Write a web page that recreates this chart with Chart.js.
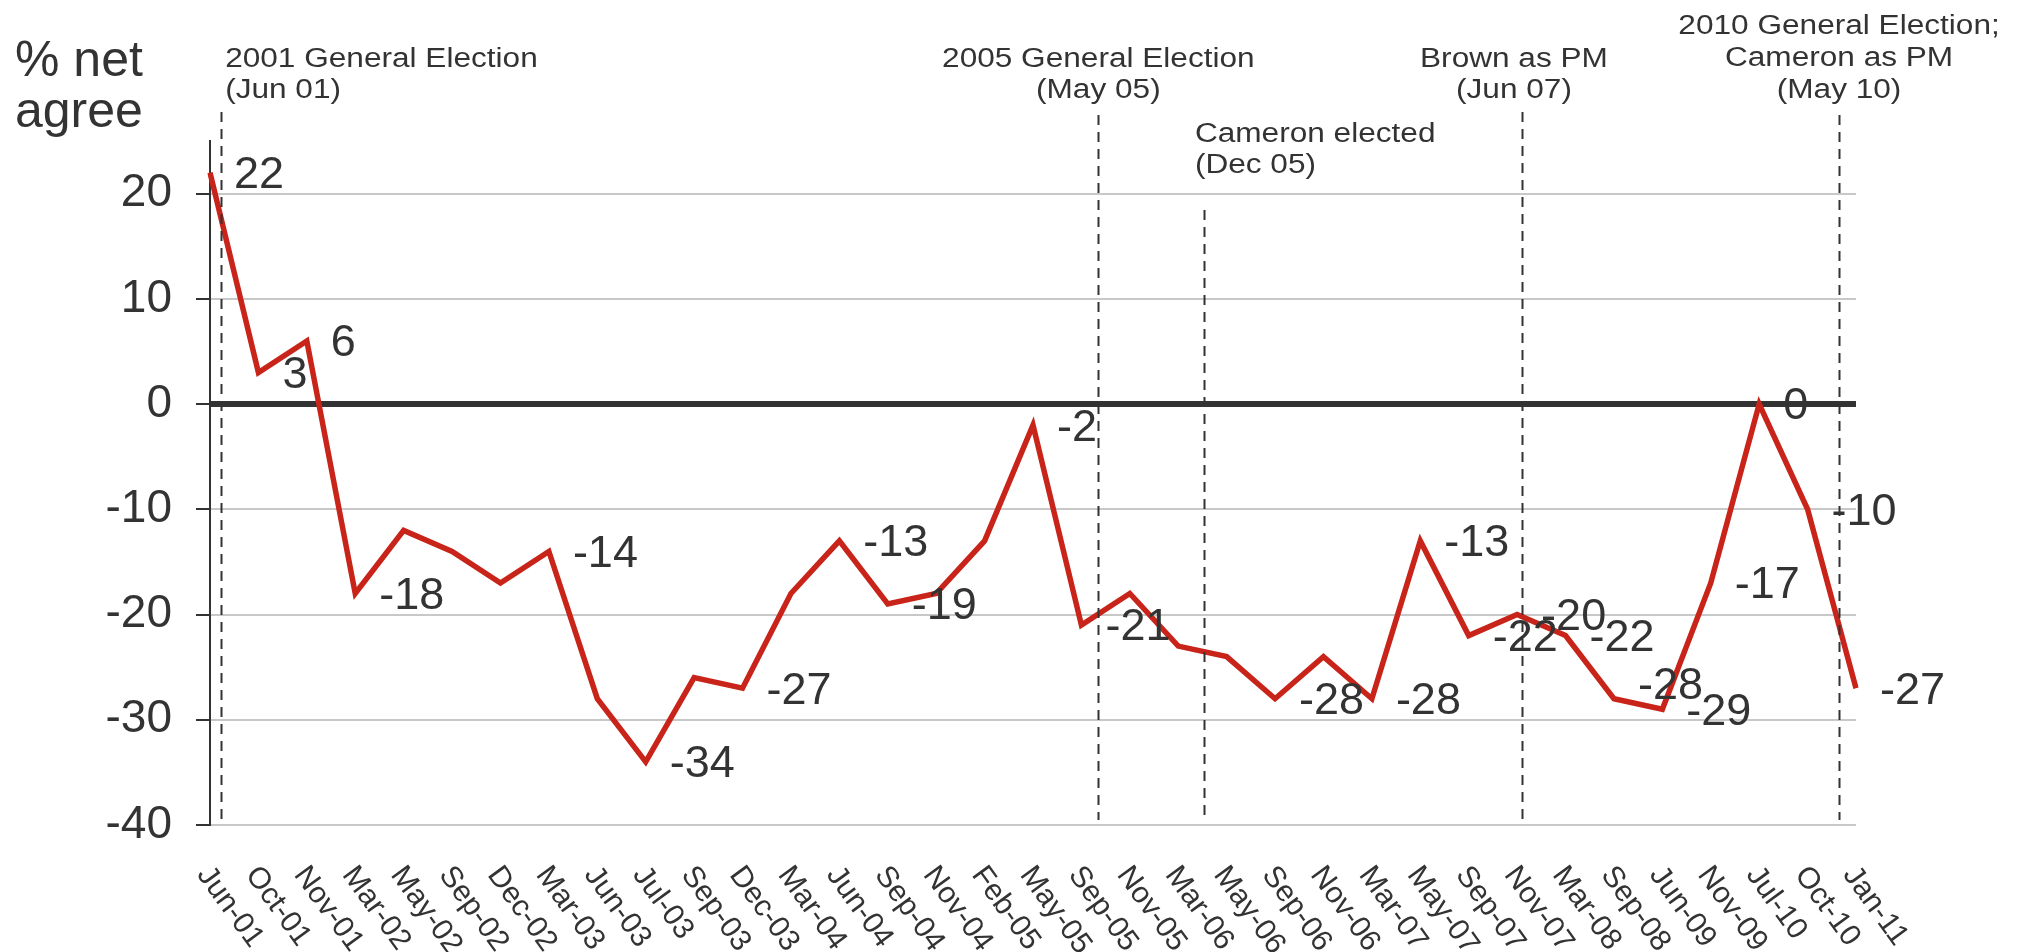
<!DOCTYPE html>
<html>
<head>
<meta charset="utf-8">
<script src="https://cdn.jsdelivr.net/npm/chart.js@4/dist/chart.umd.min.js"></script>
<style>
  html, body { margin: 0; padding: 0; background: #fff; }
  #wrap { width: 2025px; height: 952px; position: relative; }
</style>
</head>
<body>
<div id="wrap"><canvas id="netChart"></canvas></div>
<script>
// survey dates (category axis)
const months = ["Jun-01", "Oct-01", "Nov-01", "Mar-02", "May-02", "Sep-02", "Dec-02", "Mar-03",
  "Jun-03", "Jul-03", "Sep-03", "Dec-03", "Mar-04", "Jun-04", "Sep-04", "Nov-04", "Feb-05",
  "May-05", "Sep-05", "Nov-05", "Mar-06", "May-06", "Sep-06", "Nov-06", "Mar-07", "May-07",
  "Sep-07", "Nov-07", "Mar-08", "Sep-08", "Jun-09", "Nov-09", "Jul-10", "Oct-10", "Jan-11"];

// % net agree
const netAgree = [22, 3, 6, -18, -12, -14, -17, -14, -28, -34, -26, -27, -18, -13, -19, -18, -13,
  -2, -21, -18, -23, -24, -28, -24, -28, -13, -22, -20, -22, -28, -29, -17, 0, -10, -27];

// which points carry a value label
const labelledPoints = [0, 1, 2, 3, 7, 9, 11, 13, 14, 17, 18, 22, 24, 25, 26, 27, 28, 29, 30, 31, 32, 33, 34];

const yTicks = [-40, -30, -20, -10, 0, 10, 20];

// events: text lines and where they sit on the category axis (fractional index)
const eventText = [
  ["2001 General Election", "(Jun 01)"],
  ["2005 General Election", "(May 05)"],
  ["Cameron elected", "(Dec 05)"],
  ["Brown as PM", "(Jun 07)"],
  ["2010 General Election;", "Cameron as PM", "(May 10)"]
];
const eventAt = [0.23, 18.35, 20.53, 27.1, 33.65];

// look of the event markers (not data)
const eventStyle = [
  { align: "left", dx: 4, lines: [67, 98], top: 112 },
  { align: "center", dx: 0, lines: [67, 98], top: 115 },
  { align: "left", dx: -9, lines: [142, 173], top: 210 },
  { align: "center", dx: -8, lines: [67, 98], top: 112 },
  { align: "center", dx: 0, lines: [34, 66, 98], top: 115 }
];
const labelShiftY = { 29: -15 };

const INK = "#333333";
const FONT = "'Liberation Sans', Arial, Helvetica, sans-serif";

const overlay = {
  id: "overlay",
  afterDraw(chart) {
    const ctx = chart.ctx;
    const xs = chart.scales.x;
    const ys = chart.scales.y;
    ctx.save();
    ctx.fillStyle = INK;

    // value labels
    ctx.font = "45px " + FONT;
    ctx.textAlign = "left";
    ctx.textBaseline = "middle";
    labelledPoints.forEach(function (i) {
      const px = xs.getPixelForValue(i);
      const py = ys.getPixelForValue(netAgree[i]) + 3 + (labelShiftY[i] || 0);
      ctx.fillText(String(netAgree[i]), px + 24, py);
    });

    // event lines
    ctx.strokeStyle = INK;
    ctx.lineWidth = 2;
    ctx.setLineDash([10, 7]);
    eventAt.forEach(function (v, k) {
      const x = Math.round(xs.getPixelForValue(v)) + 0.5;
      ctx.beginPath();
      ctx.moveTo(x, eventStyle[k].top);
      ctx.lineTo(x, chart.chartArea.bottom - 5);
      ctx.stroke();
    });
    ctx.setLineDash([]);

    // event texts
    ctx.font = "27px " + FONT;
    ctx.textBaseline = "alphabetic";
    eventText.forEach(function (lines, k) {
      const st = eventStyle[k];
      const x = xs.getPixelForValue(eventAt[k]) + st.dx;
      ctx.textAlign = st.align;
      lines.forEach(function (t, j) {
        ctx.save();
        ctx.translate(x, st.lines[j]);
        ctx.scale(1.17, 1);
        ctx.fillText(t, 0, 0);
        ctx.restore();
      });
    });

    // axis title
    ctx.font = "50px " + FONT;
    ctx.textAlign = "left";
    ctx.fillText("% net", 15, 76);
    ctx.fillText("agree", 15, 127);

    // rotated category labels
    ctx.font = "30px " + FONT;
    ctx.textBaseline = "middle";
    months.forEach(function (m, i) {
      const x = xs.getPixelForValue(i);
      ctx.save();
      ctx.translate(x - 7, 870);
      ctx.rotate(54 * Math.PI / 180);
      ctx.fillText(m, 0, 0);
      ctx.restore();
    });
    ctx.restore();
  }
};

new Chart(document.getElementById("netChart"), {
  type: "line",
  data: {
    labels: months,
    datasets: [{
      data: netAgree,
      borderColor: "#c9241a",
      borderWidth: 5.5,
      pointRadius: 0,
      tension: 0,
      fill: false
    }]
  },
  options: {
    responsive: true,
    maintainAspectRatio: false,
    animation: false,
    layout: { padding: { top: 141, right: 169, bottom: 0, left: 0 } },
    plugins: { legend: { display: false }, tooltip: { enabled: false } },
    scales: {
      x: {
        offset: false,
        grid: { display: false },
        border: { display: false },
        ticks: { display: false },
        afterFit(scale) { scale.height = 127; }
      },
      y: {
        min: -40,
        max: 25,
        afterBuildTicks(scale) { scale.ticks = yTicks.map(v => ({ value: v })); },
        afterFit(scale) { scale.width = 210; },
        border: { display: true, color: INK, width: 2 },
        grid: {
          color: c => c.tick && c.tick.value === 0 ? INK : "#c8c8c8",
          lineWidth: c => c.tick && c.tick.value === 0 ? 6 : 2,
          tickColor: INK,
          tickWidth: 2,
          tickLength: 14
        },
        ticks: {
          color: INK,
          padding: 24,
          font: { family: FONT, size: 46 }
        }
      }
    }
  },
  plugins: [overlay]
});
</script>
</body>
</html>
